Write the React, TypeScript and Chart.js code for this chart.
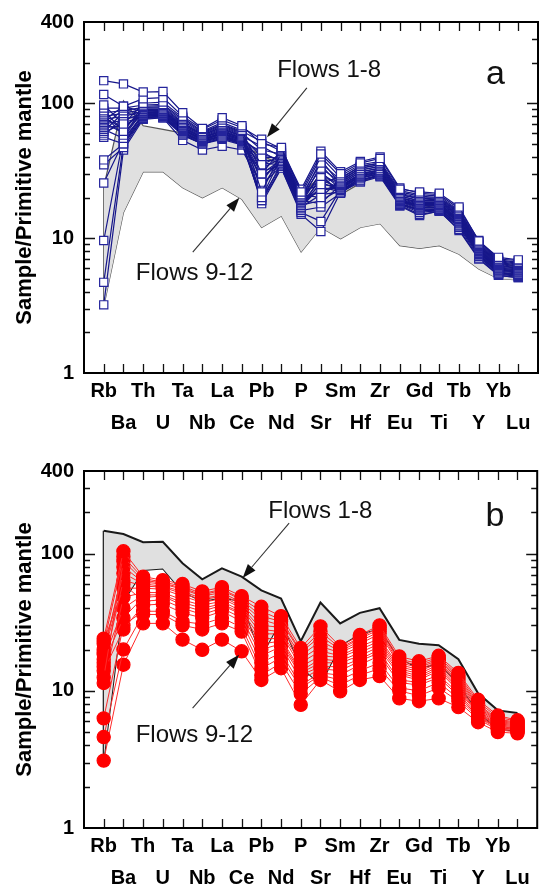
import React, { useEffect, useRef } from 'react';
import { Chart, registerables } from 'chart.js';

Chart.register(...registerables);

const FONT = '"Liberation Sans", Arial, Helvetica, sans-serif';

// Element order along the x axis (primitive-mantle normalised spider diagram)
const elements = ['Rb', 'Ba', 'Th', 'U', 'Ta', 'Nb', 'La', 'Ce', 'Pb', 'Nd', 'P', 'Sr', 'Sm', 'Hf', 'Zr', 'Eu', 'Gd', 'Ti', 'Tb', 'Y', 'Yb', 'Lu'];
const yTickValues = [1, 10, 100, 400];
const yAxisMin = 1;
const yAxisMax = 400;

// Flows 1-8 samples (sample / primitive mantle)
const f18_01 = [147, 139, 121, 122, 85, 65, 78, 68, 50, 47, 22, 42, 30, 36, 39, 23, 22, 21.5, 17, 9.5, 7.2, 6.9];
const f18_02 = [116, 95, 108, 110, 80, 64, 75, 66, 54, 46, 23, 44, 31, 37, 40, 23.5, 21.5, 21, 16.5, 9.6, 7.0, 6.8];
const f18_03 = [97, 70, 100, 102, 78, 62, 72, 63, 30, 45, 22, 25, 29, 35, 37, 22.5, 21, 20.5, 16, 9.4, 6.9, 6.6];
const f18_04 = [92, 92, 97, 98, 76, 61, 70, 62, 52, 44, 21, 40, 28, 34, 36, 22, 20.5, 20, 15.8, 9.2, 6.8, 6.5];
const f18_05 = [88, 62, 95, 96, 74, 60, 69, 61, 22, 43, 21, 20, 27.5, 34, 36, 21.5, 20, 19.8, 15.5, 9.0, 6.7, 6.4];
const f18_06 = [85, 88, 93, 94, 72, 59, 68, 60, 45, 42, 20.5, 36, 27, 33, 35, 21, 19.8, 19.5, 15.3, 8.9, 6.6, 6.3];
const f18_07 = [82, 58, 92, 92, 71, 58, 67, 59, 35, 41, 20, 28, 26.5, 33, 35, 21, 19.5, 19.2, 15, 8.8, 6.5, 6.2];
const f18_08 = [80, 84, 90, 90, 70, 58, 66, 58, 26, 41, 20, 33, 26, 32, 34, 20.5, 19, 19, 14.8, 8.7, 6.4, 6.1];
const f18_09 = [78, 65, 88, 89, 69, 57, 65, 57, 48, 40, 19.5, 22, 25.5, 32, 34, 20.5, 18.8, 18.8, 14.6, 8.6, 6.3, 6.0];
const f18_10 = [76, 80, 87, 88, 68, 56, 64, 57, 20, 40, 19.5, 38, 25, 31, 33, 20, 18.5, 18.5, 14.5, 8.5, 6.2, 6.0];
const f18_11 = [74, 95, 86, 87, 67, 55, 63, 56, 40, 39, 19, 18, 25, 31, 33, 20, 18.3, 18.3, 14.3, 8.4, 6.1, 5.9];
const f18_12 = [72, 60, 85, 86, 66, 55, 62, 55, 33, 39, 19, 30, 24.5, 30, 32, 19.8, 18, 18, 14, 8.3, 6.0, 5.8];
const f18_13 = [70, 75, 84, 85, 65, 54, 61, 55, 42, 38, 18.5, 35, 24, 30, 32, 19.5, 17.8, 17.8, 13.8, 8.2, 6.0, 5.8];
const f18_14 = [68, 90, 83, 84, 64, 53, 60, 54, 24, 38, 18.5, 23, 24, 29.5, 31.5, 19.3, 17.5, 17.5, 13.6, 8.1, 5.9, 5.7];
const f18_15 = [66, 68, 82, 83, 63, 53, 59, 53, 38, 37, 18, 27, 23.5, 29, 31, 19, 17.3, 17.3, 13.4, 8.0, 5.8, 5.6];
const f18_16 = [64, 55, 81, 82, 62, 52, 58, 52, 28, 37, 18, 31, 23, 29, 31, 19, 17, 17, 13.2, 7.9, 5.8, 5.6];
const f18_17 = [62, 85, 80, 81, 61, 52, 57, 52, 44, 36, 17.5, 19, 23, 28.5, 30.5, 18.7, 16.8, 16.8, 13, 7.8, 5.7, 5.5];
const f18_18 = [60, 72, 79, 80, 60, 51, 56, 51, 19, 36, 17, 26, 22.5, 28, 30, 18.5, 16.5, 16.5, 12.8, 7.7, 5.6, 5.4];
const f18_19 = [58, 78, 78, 79, 59, 50, 55, 50, 36, 35, 17, 24, 22, 28, 30, 18.2, 16.2, 16.3, 12.5, 7.6, 5.5, 5.4];
const f18_20 = [56, 50, 77, 78, 58, 50, 54, 49, 31, 35, 16.5, 29, 22, 27, 29.5, 18, 16, 16, 12.3, 7.5, 5.5, 5.3];
const f18_21 = [38, 50, 80, 82, 60, 52, 57, 51, 20, 34, 16, 17, 21.5, 27, 29, 17.8, 15.5, 16, 12, 7.3, 5.4, 5.2];
const f18_22 = [35, 47, 78, 80, 58, 50, 55, 50, 19, 33, 15.5, 13.3, 23, 26.5, 29, 17.5, 15, 15.8, 11.6, 7.1, 5.3, 5.1];
const f18_23 = [25.6, 52, 85, 86, 64, 54, 60, 54, 18, 33, 15, 11.2, 22, 26, 28.5, 17.3, 14.7, 15.9, 11.4, 7.0, 5.3, 5.1];
const f18_24 = [9.6, 56, 88, 88, 66, 56, 62, 55, 30, 38, 18, 25, 24, 30, 32, 19, 17.5, 17.5, 13.5, 8.0, 5.9, 5.7];
const f18_25 = [4.7, 50, 84, 85, 63, 54, 59, 53, 28, 37, 18, 23, 23.5, 29, 31, 18.8, 17, 17, 13.2, 7.9, 5.8, 5.6];
const f18_26 = [3.2, 45, 76, 78, 53, 45, 48, 45, 25, 34, 17, 21, 22, 28, 30, 18, 16, 16.5, 12.5, 7.5, 5.5, 5.3];

// Flows 9-12 samples (sample / primitive mantle)
const f912_01 = [24, 104, 68, 64, 60, 53, 57, 49, 41, 35, 20.5, 29.5, 21, 25.5, 30, 17.8, 16.4, 18, 13.5, 8.6, 6.6, 6.1];
const f912_02 = [22, 95, 66, 62, 58, 51, 55, 47, 38, 33, 19.5, 27, 20.5, 24.5, 29, 17, 15.8, 17.5, 13, 8.3, 6.4, 6.0];
const f912_03 = [12.5, 88, 64, 61, 56, 50, 54, 46, 35, 32, 19, 25, 20, 24, 28, 16.5, 15.3, 17, 12.6, 8.0, 6.2, 5.9];
const f912_04 = [18.5, 80, 62, 60, 55, 49, 52, 44, 33, 30, 18, 23, 19.5, 23, 27, 16, 14.8, 16.7, 12.2, 7.8, 6.1, 5.8];
const f912_05 = [20, 72, 60, 58, 53, 47, 50, 43, 30, 29, 17, 21, 19, 22, 26, 15.5, 14.3, 16.3, 11.8, 7.6, 6.0, 5.7];
const f912_06 = [15, 64, 58, 57, 51, 46, 49, 41, 28, 27, 16, 19.5, 18, 21, 24, 15, 13.8, 16, 11.4, 7.4, 5.9, 5.6];
const f912_07 = [23, 56, 56, 55, 49, 44, 47, 40, 26, 26, 15, 18, 17.5, 20, 23, 14.5, 13.3, 15.5, 11, 7.2, 5.8, 5.5];
const f912_08 = [11.4, 48, 52, 52, 46, 42, 45, 38, 24, 24, 14, 17, 16.5, 19, 22, 14, 12.8, 15, 10.6, 7.0, 5.7, 5.4];
const f912_09 = [17, 40, 50, 50, 44, 40, 43, 37, 22, 23, 13.5, 16, 16, 18, 21, 13.5, 12.4, 14.5, 10.3, 6.9, 5.6, 5.3];
const f912_10 = [16, 34, 48, 49, 42, 38, 42, 36, 20, 22, 13, 15, 15, 17, 20, 13, 12, 14, 10, 6.8, 5.5, 5.3];
const f912_11 = [19, 60, 45, 46, 40, 36, 40, 34, 18, 21, 12, 14.5, 14, 16.5, 19, 12, 11.5, 13, 9.6, 6.6, 5.4, 5.2];
const f912_12 = [14, 28, 42, 43, 37, 34, 38, 32, 16, 19, 11, 13.5, 13, 15.5, 18, 11.5, 11, 12.5, 9.2, 6.5, 5.4, 5.2];
const f912_13 = [6.3, 30, 38, 38, 32, 30.6, 34, 29, 14.5, 17.5, 10.5, 13, 12, 14, 16, 10.5, 10, 11.5, 8.8, 6.4, 5.3, 5.1];
const f912_14 = [4.6, 20, 36, 36, 30, 28, 31, 27, 13, 16, 9.5, 12.5, 11, 13, 14.5, 10, 9.2, 10.5, 8.4, 6.2, 5.2, 5.0];
const f912_15 = [3.1, 15.5, 31, 31, 23.6, 19.9, 23.6, 19.4, 12, 14.6, 7.9, 12, 9.9, 12, 12.8, 8.8, 8.4, 8.8, 7.6, 5.9, 5.0, 4.9];

const flows1to8 = [f18_01, f18_02, f18_03, f18_04, f18_05, f18_06, f18_07, f18_08, f18_09, f18_10, f18_11, f18_12, f18_13,
  f18_14, f18_15, f18_16, f18_17, f18_18, f18_19, f18_20, f18_21, f18_22, f18_23, f18_24, f18_25, f18_26];
const flows9to12 = [f912_01, f912_02, f912_03, f912_04, f912_05, f912_06, f912_07, f912_08, f912_09, f912_10, f912_11,
  f912_12, f912_13, f912_14, f912_15];

type Pt = [number, number]; // [element index, normalised value]
type Note = { text: string; at: Pt; size: number };
type Arrow = { tail: Pt; tip: Pt };

interface PanelSpec {
  samples: number[][];
  envelopeOf: number[][];
  pointStyle: 'rect' | 'circle';
  pointRadius: number;
  lineColor: string;
  lineWidth: number;
  pointFill: string;
  pointStroke: string;
  envLine: string;
  envLineWidth: number;
  padTop: number;
  axisHeight: number;
  notes: Note[];
  arrows: Arrow[];
}

const toPoints = (vals: number[]) => vals.map((y, x) => ({ x, y }));

function drawArrow(ctx: CanvasRenderingContext2D, x1: number, y1: number, x2: number, y2: number) {
  const ang = Math.atan2(y2 - y1, x2 - x1);
  const headLen = 14;
  const headW = 5;
  const bx = x2 - headLen * Math.cos(ang);
  const by = y2 - headLen * Math.sin(ang);
  ctx.strokeStyle = '#333';
  ctx.lineWidth = 1.1;
  ctx.beginPath();
  ctx.moveTo(x1, y1);
  ctx.lineTo(bx, by);
  ctx.stroke();
  ctx.fillStyle = '#111';
  ctx.beginPath();
  ctx.moveTo(x2, y2);
  ctx.lineTo(bx + headW * Math.sin(ang), by - headW * Math.cos(ang));
  ctx.lineTo(bx - headW * Math.sin(ang), by + headW * Math.cos(ang));
  ctx.closePath();
  ctx.fill();
}

function SpiderPanel({ spec }: { spec: PanelSpec }) {
  const ref = useRef<HTMLCanvasElement | null>(null);

  useEffect(() => {
    if (!ref.current) return;
    const n = elements.length;
    const envUpper = elements.map((_, i) => Math.max(...spec.envelopeOf.map((s) => s[i])));
    const envLower = elements.map((_, i) => Math.min(...spec.envelopeOf.map((s) => s[i])));

    const envStyle = {
      borderColor: spec.envLine,
      borderWidth: spec.envLineWidth,
      pointRadius: 0,
      tension: 0,
    };

    const datasets: any[] = [
      { ...envStyle, data: toPoints(envUpper), fill: '+1', backgroundColor: '#e0e0e0', order: 100 },
      { ...envStyle, data: toPoints(envLower), fill: false, order: 101 },
      { ...envStyle, data: [{ x: 0, y: envUpper[0] }, { x: 0, y: envLower[0] }], fill: false, order: 102 },
      { ...envStyle, data: [{ x: n - 1, y: envUpper[n - 1] }, { x: n - 1, y: envLower[n - 1] }], fill: false, order: 103 },
      ...spec.samples.map((s, k) => ({
        data: toPoints(s),
        fill: false,
        borderColor: spec.lineColor,
        borderWidth: spec.lineWidth,
        tension: 0,
        pointStyle: spec.pointStyle,
        pointRadius: spec.pointRadius,
        pointBackgroundColor: spec.pointFill,
        pointBorderColor: spec.pointStroke,
        pointBorderWidth: 1.2,
        order: k + 1,
      })),
    ];

    const framePlugin = {
      id: 'frameTicks',
      afterDatasetsDraw(chart: any) {
        const { ctx, chartArea } = chart;
        const { left, right, top, bottom } = chartArea;
        const xs = chart.scales.x;
        const ys = chart.scales.y;
        ctx.save();
        ctx.strokeStyle = '#111';
        ctx.lineWidth = 1.3;
        ctx.beginPath();
        elements.forEach((_, i) => {
          const px = Math.round(xs.getPixelForValue(i)) + 0.5;
          ctx.moveTo(px, bottom);
          ctx.lineTo(px, bottom - 9);
          ctx.moveTo(px, top);
          ctx.lineTo(px, top + 9);
        });
        for (let d = 1; d <= yAxisMax; d *= 10) {
          for (let m = 1; m <= 9; m++) {
            const v = m * d;
            if (v <= yAxisMin || v >= yAxisMax) continue;
            const py = Math.round(ys.getPixelForValue(v)) + 0.5;
            const len = m === 1 ? 11 : 6;
            ctx.moveTo(left, py);
            ctx.lineTo(left + len, py);
            ctx.moveTo(right, py);
            ctx.lineTo(right - len, py);
          }
        }
        ctx.stroke();
        ctx.lineWidth = 2;
        ctx.strokeStyle = '#000';
        ctx.strokeRect(left, top, right - left, bottom - top);
        ctx.restore();
      },
      afterDraw(chart: any) {
        const { ctx } = chart;
        const xs = chart.scales.x;
        const ys = chart.scales.y;
        const px = (p: Pt): [number, number] => [xs.getPixelForValue(p[0]), ys.getPixelForValue(p[1])];
        ctx.save();
        spec.arrows.forEach((a) => {
          const [x1, y1] = px(a.tail);
          const [x2, y2] = px(a.tip);
          drawArrow(ctx, x1, y1, x2, y2);
        });
        ctx.fillStyle = '#111';
        ctx.textAlign = 'center';
        ctx.textBaseline = 'middle';
        spec.notes.forEach((t) => {
          const [x, y] = px(t.at);
          ctx.font = `${t.size}px ${FONT}`;
          ctx.fillText(t.text, x, y);
        });
        ctx.restore();
      },
    };

    const chart = new Chart(ref.current, {
      type: 'line',
      data: { datasets },
      options: {
        animation: false,
        responsive: false,
        events: [],
        layout: { padding: { top: spec.padTop, right: 5, left: 0, bottom: 0 } },
        plugins: { legend: { display: false }, tooltip: { enabled: false } },
        scales: {
          x: {
            type: 'linear',
            min: -1,
            max: n,
            grid: { display: false, drawTicks: false },
            border: { display: false },
            afterBuildTicks: (s: any) => {
              s.ticks = elements.map((_, i) => ({ value: i }));
            },
            afterFit: (s: any) => {
              s.height = spec.axisHeight;
            },
            ticks: {
              autoSkip: false,
              maxRotation: 0,
              minRotation: 0,
              padding: 2.5,
              color: '#000',
              font: { family: FONT, size: 20, weight: 'bold', lineHeight: 1.6 },
              callback: (value: any) => {
                const i = Math.round(Number(value));
                const name = elements[i];
                if (name === undefined) return '';
                return i % 2 === 0 ? name : ['', name];
              },
            },
          },
          y: {
            type: 'logarithmic',
            min: yAxisMin,
            max: yAxisMax,
            grid: { display: false, drawTicks: false },
            border: { display: false },
            afterBuildTicks: (s: any) => {
              s.ticks = yTickValues.map((v) => ({ value: v }));
            },
            afterFit: (s: any) => {
              s.width = 84;
            },
            ticks: {
              padding: 10,
              color: '#000',
              font: { family: FONT, size: 20, weight: 'bold' },
              callback: (v: any) => String(v),
            },
            title: {
              display: true,
              text: 'Sample/Primitive mantle',
              color: '#000',
              font: { family: FONT, size: 22, weight: 'bold' },
              padding: { top: 12, bottom: 0 },
            },
          },
        },
      } as any,
      plugins: [framePlugin],
    });
    return () => chart.destroy();
  }, [spec]);

  return <canvas ref={ref} width={545} height={444} style={{ display: 'block', width: 545, height: 444 }} />;
}

const panelA: PanelSpec = {
  samples: flows1to8,
  envelopeOf: flows9to12,
  pointStyle: 'rect',
  pointRadius: 5.8,
  lineColor: '#16168a',
  lineWidth: 1.2,
  pointFill: '#ffffff',
  pointStroke: '#24249c',
  envLine: '#555555',
  envLineWidth: 1.2,
  padTop: 17,
  axisHeight: 71,
  notes: [
    { text: 'Flows 1-8', at: [11.42, 175], size: 24 },
    { text: 'Flows 9-12', at: [4.6, 5.47], size: 24 },
    { text: 'a', at: [19.85, 164], size: 34 },
  ],
  arrows: [
    { tail: [10.29, 130], tip: [8.27, 56] },
    { tail: [4.51, 7.87], tip: [6.87, 19.9] },
  ],
};

const panelB: PanelSpec = {
  samples: flows9to12,
  envelopeOf: flows1to8,
  pointStyle: 'circle',
  pointRadius: 6.6,
  lineColor: '#ff2a2a',
  lineWidth: 1,
  pointFill: '#ff0000',
  pointStroke: '#ff0000',
  envLine: '#1a1a1a',
  envLineWidth: 2,
  padTop: 27,
  axisHeight: 60,
  notes: [
    { text: 'Flows 1-8', at: [10.99, 204], size: 24 },
    { text: 'Flows 9-12', at: [4.6, 4.77], size: 24 },
    { text: 'b', at: [19.85, 187], size: 34 },
  ],
  arrows: [
    { tail: [9.41, 167], tip: [7.05, 66.5] },
    { tail: [4.51, 7.48], tip: [6.87, 18.3] },
  ],
};

export default function App() {
  return (
    <div style={{ position: 'absolute', left: 0, top: 0, width: 545, height: 888, background: '#fff' }}>
      <SpiderPanel spec={panelA} />
      <SpiderPanel spec={panelB} />
    </div>
  );
}
